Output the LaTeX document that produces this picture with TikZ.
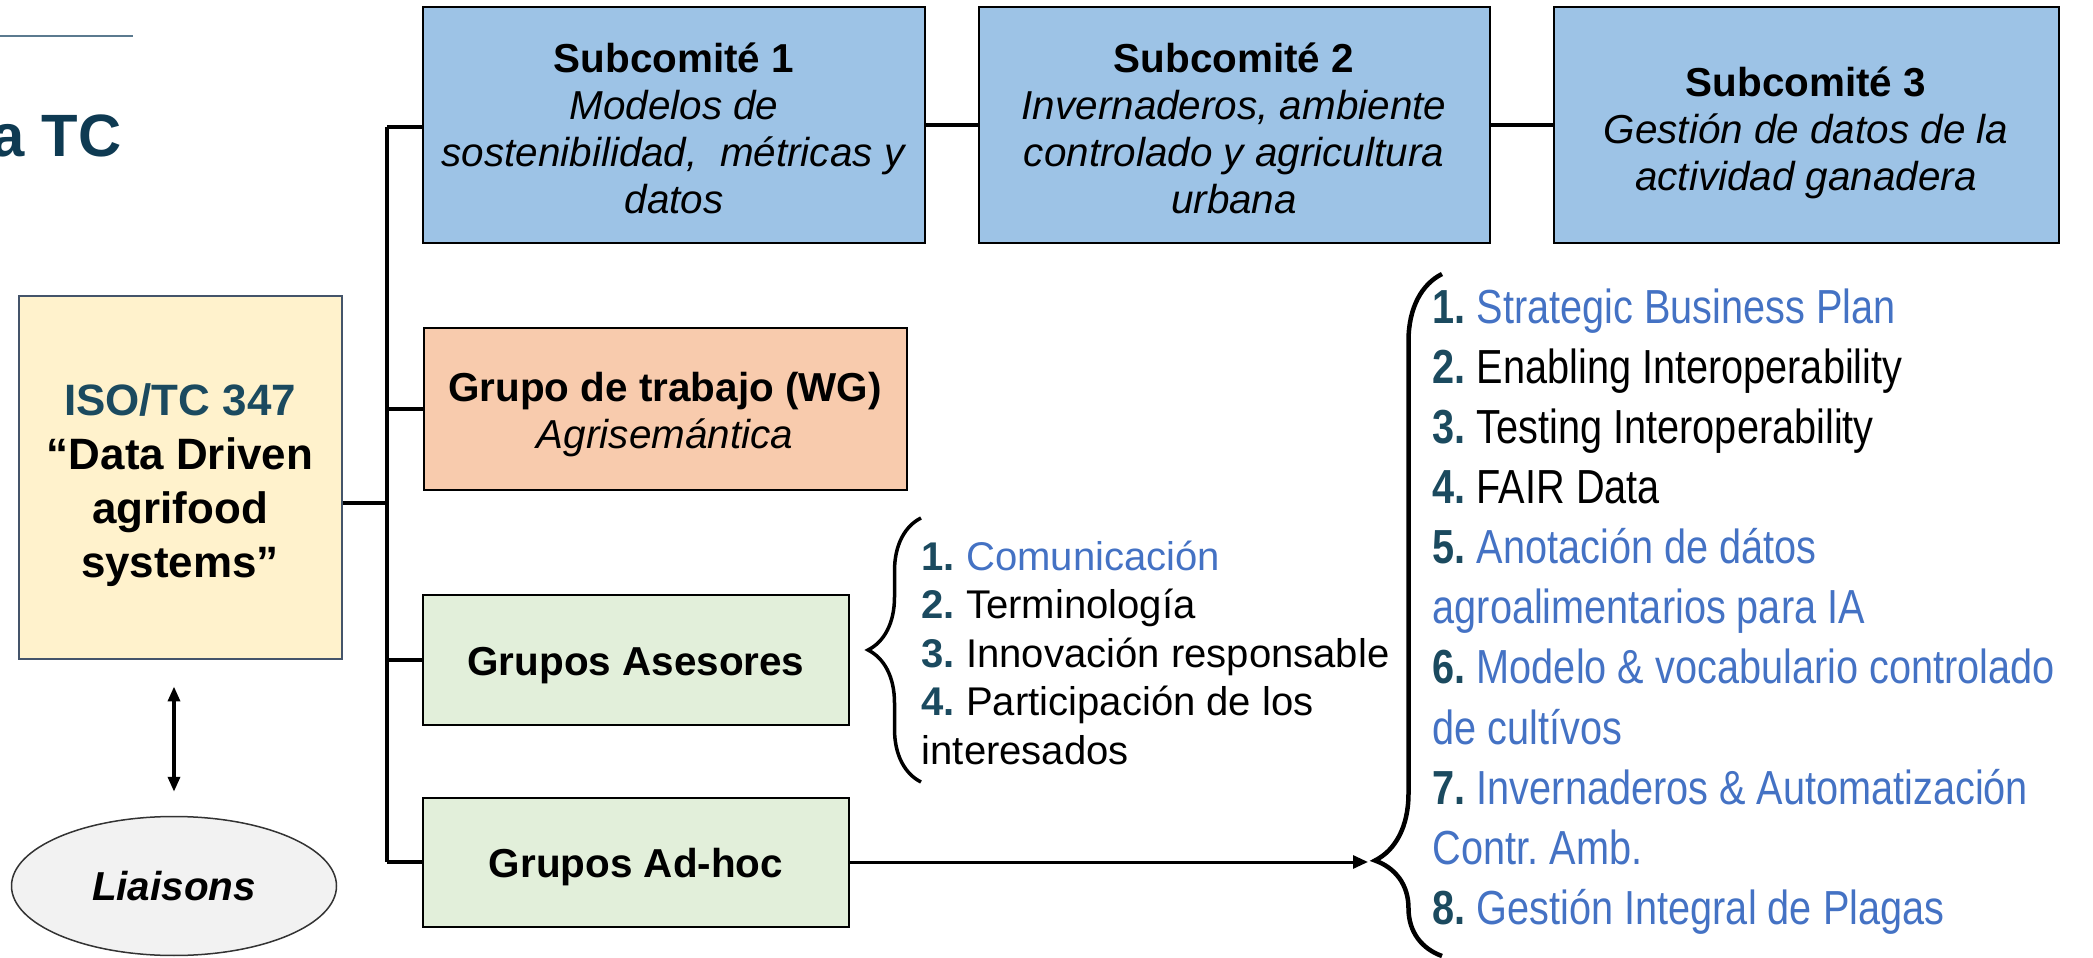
\documentclass[tikz,border=0pt]{standalone}
\usepackage{fontspec}
\setmainfont{Liberation Sans}
\newfontfamily\narrowfont{Liberation Sans}[FakeStretch=0.83]
\usetikzlibrary{arrows.meta, positioning, calc, shapes.geometric, decorations.pathreplacing}

\definecolor{subblue}{HTML}{9DC3E6}
\definecolor{wgorange}{HTML}{F8CBAD}
\definecolor{grgreen}{HTML}{E2EFDA}
\definecolor{isoyellow}{HTML}{FFF2CC}
\definecolor{isoborder}{HTML}{44546A}
\definecolor{numteal}{HTML}{1B4A5F}
\definecolor{itemblue}{HTML}{4472C4}
\definecolor{titlenavy}{HTML}{0E3A52}
\definecolor{rulegray}{HTML}{5B7A8F}
\definecolor{liaisongray}{HTML}{F2F2F2}

\newcommand{\listnum}[1]{\textbf{\textcolor{numteal}{#1.}}}
\newcommand{\topgap}[1]{\rule{0pt}{#1}}
\frenchspacing

\tikzset{
    box/.style={draw=black, line width=0.2mm, inner sep=0pt, align=center,
        font=\fontsize{11.5}{13.4}\selectfont},
    bus/.style={line width=0.4mm},
}

\begin{document}
\begin{tikzpicture}[x=0.1mm, y=-0.1mm]
    \useasboundingbox (0,0) rectangle (2093,958);

    \draw[rulegray, line width=0.2mm] (0,36) -- (133,36);
    \node[anchor=base east, inner sep=0pt, text=titlenavy, font=\fontsize{17}{20}\selectfont\bfseries] (title) at (122,157) {a TC};

    \node[box, fill=subblue, minimum width=50.2mm, minimum height=23.6mm] (s1) at (674,125)
        {\topgap{3.6mm}\textbf{Subcomité 1}\\ \textit{Modelos de}\\ \textit{sostenibilidad,\ \ métricas y}\\ \textit{datos}};
    \node[box, fill=subblue, minimum width=51.1mm, minimum height=23.6mm] (s2) at (1234,125)
        {\topgap{3.6mm}\textbf{Subcomité 2}\\ \textit{Invernaderos, ambiente}\\ \textit{controlado y agricultura}\\ \textit{urbana}};
    \node[box, fill=subblue, minimum width=50.5mm, minimum height=23.6mm] (s3) at (1806,125)
        {\topgap{4.6mm}\textbf{Subcomité 3}\\ \textit{Gestión de datos de la}\\ \textit{actividad ganadera}};
    \node[box, fill=wgorange, minimum width=48.3mm, minimum height=16.2mm] (wg) at (665,409)
        {\topgap{4mm}\textbf{Grupo de trabajo (WG)}\\ \textit{Agrisemántica}};
    \node[box, fill=grgreen, minimum width=42.6mm, minimum height=13mm] (ga) at (636,660)
        {\topgap{4mm}\textbf{Grupos Asesores}};
    \node[box, fill=grgreen, minimum width=42.6mm, minimum height=12.9mm] (ah) at (636,862)
        {\topgap{4mm}\textbf{Grupos Ad-hoc}};

    \node[box, draw=isoborder, fill=isoyellow, minimum width=32.3mm, minimum height=36.3mm,
        font=\fontsize{12.5}{15.4}\selectfont\bfseries] (iso) at (180,478)
        {\topgap{4.6mm}\textcolor{numteal}{ISO/TC 347}\\ “Data Driven\\ agrifood\\ systems”};
    \node[ellipse, draw=black!80, fill=liaisongray, line width=0.15mm, minimum width=32.5mm, minimum height=13.9mm,
        inner sep=0pt, font=\fontsize{11.5}{13.4}\selectfont\bfseries\itshape] (liaisons) at (174,886) {Liaisons};

    \coordinate (bustop) at (387,127);
    \coordinate (busbot) at (387,862);
    \coordinate (isojoin) at (387,503);
    \draw[bus] (bustop) -- (busbot);
    \draw[bus] (bustop) -- (bustop -| s1.west);
    \draw[bus] (s1.east) -- (s2.west);
    \draw[bus] (s2.east) -- (s3.west);
    \draw[bus] (bustop |- wg.west) -- (wg.west);
    \draw[bus] (bustop |- ga.west) -- (ga.west);
    \draw[bus] (busbot) -- (ah.west);
    \draw[bus] (isojoin -| iso.east) -- (isojoin);

    \draw[line width=0.35mm, {Triangle[length=1.5mm,width=1.2mm]}-{Triangle[length=1.5mm,width=1.2mm]},
        shorten <=2.6mm, shorten >=2.4mm] (liaisons.north |- iso.south) -- (liaisons.north);

    % small list
    \node[anchor=north west, inner sep=0pt, align=left, font=\fontsize{11.4}{13.8}\selectfont] (advlist) at (921,540)
        {\listnum{1} \textcolor{itemblue}{Comunicación}\\
         \listnum{2} Terminología\\
         \listnum{3} Innovación responsable\\
         \listnum{4} Participación de los\\
         interesados};
    \coordinate (advtop) at (921,518);
    \coordinate (advbot) at (921,782);
    \draw[line width=0.35mm, decorate, decoration={brace, amplitude=5.3mm}] (advbot) -- (advtop);

    % big list
    \node[anchor=north west, inner sep=0pt, align=left, font=\narrowfont\fontsize{13.6}{17.1}\selectfont] (adhoclist) at (1432,288)
        {\listnum{1} \textcolor{itemblue}{Strategic Business Plan}\\
         \listnum{2} Enabling Interoperability\\
         \listnum{3} Testing Interoperability\\
         \listnum{4} FAIR Data\\
         \listnum{5} \textcolor{itemblue}{Anotación de dátos}\\
         \textcolor{itemblue}{agroalimentarios para IA}\\
         \listnum{6} \textcolor{itemblue}{Modelo \& vocabulario controlado}\\
         \textcolor{itemblue}{de cultívos}\\
         \listnum{7} \textcolor{itemblue}{Invernaderos \& Automatización}\\
         \textcolor{itemblue}{Contr. Amb.}\\
         \listnum{8} \textcolor{itemblue}{Gestión Integral de Plagas}};
    \coordinate (adhoctop) at (1442,274);
    \coordinate (adhocbot) at (1442,956);
    \coordinate (adhoctip) at (1368,862);
    \draw[line width=0.45mm, decorate, decoration={brace, amplitude=6.7mm, aspect=0.14}] (adhocbot) -- (adhoctop);

    \draw[line width=0.3mm, -{Triangle[length=1.5mm,width=1.3mm]}] (ah.east) -- (adhoctip);
\end{tikzpicture}
\end{document}
